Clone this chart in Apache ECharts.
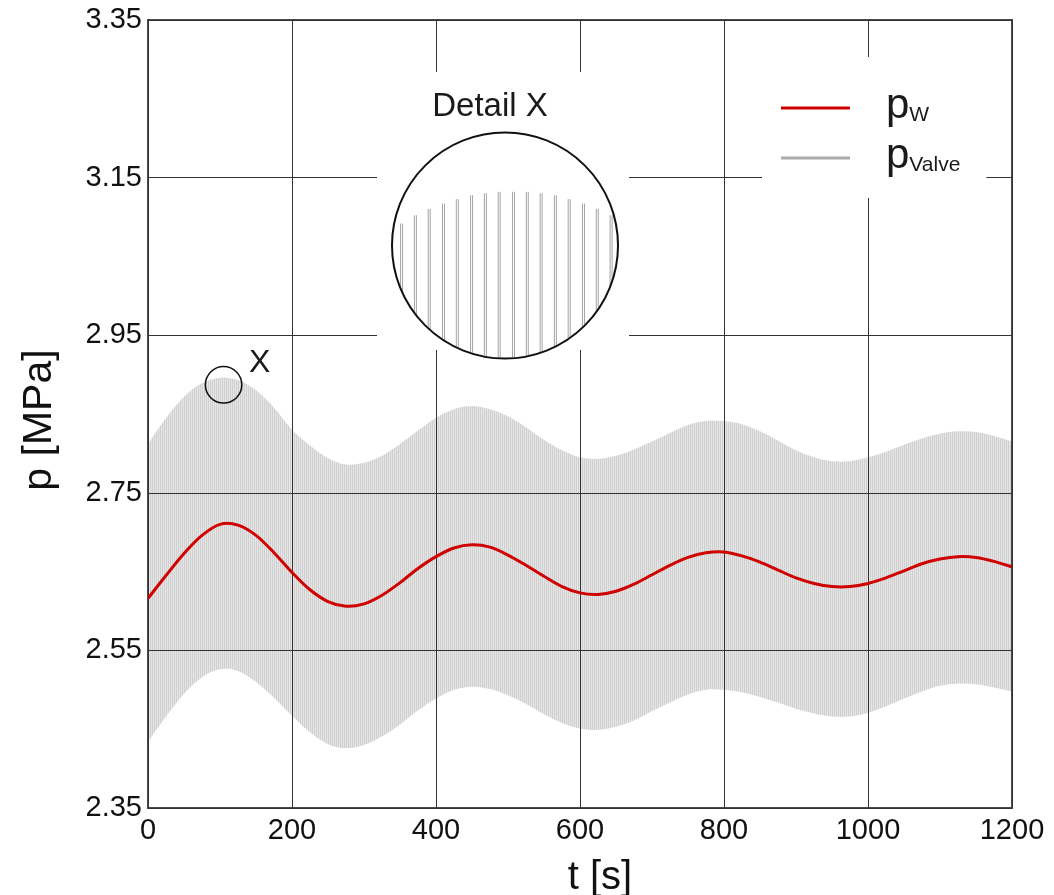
<!DOCTYPE html>
<html><head><meta charset="utf-8">
<script src="https://cdn.jsdelivr.net/npm/echarts@6/dist/echarts.min.js"></script>
<style>html,body{margin:0;padding:0;background:#fff}#c{width:1054px;height:895px}</style>
</head><body><div id="c"></div>
<script>
const FONT = '"Liberation Sans", Arial, Helvetica, sans-serif';

const times = [0,25,50,75,100,125,150,175,200,225,250,275,300,325,350,375,400,425,450,475,500,525,550,575,600,625,650,675,700,725,750,775,800,825,850,875,900,925,950,975,1000,1025,1050,1075,1100,1125,1150,1175,1200];

const pW = [2.616,2.645,2.673,2.696,2.710,2.709,2.696,2.674,2.649,2.627,2.612,2.606,2.609,2.620,2.636,2.654,2.669,2.680,2.684,2.681,2.671,2.658,2.644,2.631,2.623,2.621,2.625,2.634,2.646,2.658,2.668,2.674,2.675,2.670,2.662,2.652,2.642,2.635,2.631,2.631,2.635,2.642,2.651,2.660,2.666,2.669,2.668,2.663,2.656];

const valveUpper = [2.812,2.845,2.872,2.889,2.896,2.893,2.880,2.858,2.830,2.810,2.794,2.786,2.788,2.797,2.812,2.829,2.845,2.856,2.860,2.856,2.847,2.833,2.817,2.804,2.795,2.793,2.797,2.805,2.815,2.826,2.836,2.841,2.841,2.837,2.828,2.816,2.804,2.795,2.790,2.790,2.795,2.802,2.811,2.819,2.825,2.828,2.827,2.822,2.815];

const valveLower = [2.434,2.466,2.495,2.516,2.526,2.524,2.510,2.490,2.467,2.446,2.431,2.426,2.430,2.441,2.456,2.474,2.489,2.500,2.504,2.501,2.493,2.482,2.469,2.458,2.451,2.449,2.453,2.461,2.473,2.484,2.494,2.500,2.500,2.497,2.491,2.484,2.476,2.470,2.466,2.466,2.471,2.479,2.489,2.498,2.505,2.508,2.507,2.503,2.498];

const xTickLabels = ['0','200','400','600','800','1000','1200'];
const yTickLabels = ['2.35','2.55','2.75','2.95','3.15','3.35'];

// Detail X: magnified peaks of the valve signal around the marked point
const detailPoint = [105, 2.887];
const detailTimes = [81.8,84.9,88.0,91.2,94.3,97.5,100.6,103.7,106.9,110.0,113.1,116.3,119.4,122.6,125.7,128.8];
const detailTops = [2.8915,2.8932,2.8945,2.8956,2.8965,2.8973,2.8977,2.8980,2.8980,2.8980,2.8977,2.8973,2.8965,2.8956,2.8945,2.8932];

// stripe pattern for the dense valve oscillation
const pat = document.createElement('canvas');
pat.width = 2; pat.height = 4;
const pctx = pat.getContext('2d');
pctx.fillStyle = '#d0d0d0'; pctx.fillRect(0,0,1,4);
pctx.fillStyle = '#e5e5e5'; pctx.fillRect(1,0,1,4);

// Catmull-Rom -> cubic bezier path segments through screen points
function splineCmds(pts) {
  let d = '';
  for (let i = 0; i < pts.length - 1; i++) {
    const p0 = pts[Math.max(0, i-1)], p1 = pts[i], p2 = pts[i+1], p3 = pts[Math.min(pts.length-1, i+2)];
    const c1 = [p1[0] + (p2[0]-p0[0])/6, p1[1] + (p2[1]-p0[1])/6];
    const c2 = [p2[0] - (p3[0]-p1[0])/6, p2[1] - (p3[1]-p1[1])/6];
    d += ' C' + c1[0] + ' ' + c1[1] + ' ' + c2[0] + ' ' + c2[1] + ' ' + p2[0] + ' ' + p2[1];
  }
  return d;
}

const chart = echarts.init(document.getElementById('c'), null, {renderer:'canvas'});

const option = {
  animation: false,
  backgroundColor: '#fff',
  grid: {left:148, right:42, top:20, bottom:87, show:true, borderColor:'#4a4a4a', borderWidth:2, z:1,
         containLabel:false, outerBoundsMode:'none'},
  xAxis: {
    type:'value', min:0, max:1200, interval:200, z:1,
    name:'t [s]', nameLocation:'middle', nameGap:50,
    nameTextStyle:{fontFamily:FONT, fontSize:40, color:'#111', padding:[0,0,0,40]},
    axisLine:{show:false}, axisTick:{show:false},
    axisLabel:{fontFamily:FONT, fontSize:29, color:'#111', margin:8,
      formatter:(v)=>{ const i = Math.round(v/200); return xTickLabels[i] ?? String(v); }},
    splitLine:{show:true, lineStyle:{color:'#333', width:1}}
  },
  yAxis: {
    type:'value', min:2.35, max:3.35, interval:0.2, z:1,
    name:'p [MPa]', nameLocation:'middle', nameGap:88,
    nameTextStyle:{fontFamily:FONT, fontSize:41, color:'#111', padding:[0,12,0,0]},
    axisLine:{show:false}, axisTick:{show:false},
    axisLabel:{fontFamily:FONT, fontSize:29, color:'#111', margin:6,
      formatter:(v)=>{ const i = Math.round((v-2.35)/0.2); return yTickLabels[i] ?? v.toFixed(2); }},
    splitLine:{show:true, lineStyle:{color:'#333', width:1}}
  },
  legend: {
    orient:'vertical', left:762, top:57, padding:[28,26,17,19],
    backgroundColor:'#fff', itemWidth:69, itemHeight:3, itemGap:4, icon:'rect',
    data:[
      {name:'pW', itemStyle:{color:'#d00000'}},
      {name:'pValve', itemStyle:{color:'#aaaaaa'}}
    ],
    formatter:(n)=> n==='pW' ? '{p|p}{s|W}' : '{p|p}{s|Valve}',
    textStyle:{
      rich:{
        p:{fontFamily:FONT, fontSize:42, lineHeight:36, color:'#1a1a1a', padding:[0,0,4,31]},
        s:{fontFamily:FONT, fontSize:21, lineHeight:21, color:'#1a1a1a', verticalAlign:'top', padding:[15,0,0,0]}
      }
    }
  },
  series: [
    {
      name:'pValve', type:'custom', z:0, silent:true, clip:true,
      coordinateSystem:'cartesian2d',
      data: times.map((t,i)=>[t, valveLower[i], valveUpper[i]]),
      encode:{x:0, y:[1,2]},
      itemStyle:{color:'#aaaaaa'},
      renderItem:(params, api)=>{
        if (params.dataIndex !== 0) return null;
        const up = times.map((t,i)=>api.coord([t, valveUpper[i]]));
        const lo = times.map((t,i)=>api.coord([t, valveLower[i]])).reverse();
        const d = 'M' + up[0][0] + ' ' + up[0][1] + splineCmds(up) +
                  ' L' + lo[0][0] + ' ' + lo[0][1] + splineCmds(lo) + ' Z';
        return {type:'path', shape:{pathData:d}, style:{fill:{image:pat, repeat:'repeat'}, stroke:null}};
      }
    },
    {
      name:'pW', type:'custom', z:3, silent:true, clip:true,
      coordinateSystem:'cartesian2d',
      data: pW.map((v,i)=>[times[i], v]),
      encode:{x:0, y:1},
      itemStyle:{color:'#d00000'},
      renderItem:(params, api)=>{
        if (params.dataIndex !== 0) return null;
        const pts = pW.map((v,i)=>api.coord([times[i], v]));
        const d = 'M' + pts[0][0] + ' ' + pts[0][1] + splineCmds(pts);
        return {type:'path', shape:{pathData:d}, style:{fill:null, stroke:'#d00000', lineWidth:3, lineJoin:'round'}};
      }
    }
  ]
};
chart.setOption(option);

// marker circle "X" and Detail X inset
const c0 = chart.convertToPixel({gridIndex:0}, detailPoint);
const rMark = 18.25;
const cx = 505, cy = 245.5, R = 113;
const mag = R / rMark;
const elems = [
  {type:'circle', z:12, shape:{cx:c0[0], cy:c0[1], r:rMark}, style:{fill:'none', stroke:'#111', lineWidth:1.5}},
  {type:'text', z:12, style:{text:'X', x:c0[0]+36, y:c0[1]-22, font:'32px ' + FONT, fill:'#1a1a1a', align:'center', verticalAlign:'middle', textAlign:'center', textVerticalAlign:'middle'}},
  {type:'rect', z:10, shape:{x:377, y:72, width:252, height:278}, style:{fill:'#fff'}},
  {type:'text', z:11, style:{text:'Detail X', x:490, y:107, font:'33px ' + FONT, fill:'#1a1a1a', align:'center', verticalAlign:'middle', textAlign:'center', textVerticalAlign:'middle'}}
];
detailTimes.forEach((t,i)=>{
  const p = chart.convertToPixel({gridIndex:0}, [t, detailTops[i]]);
  const x = cx + (p[0]-c0[0])*mag;
  const yTop = cy + (p[1]-c0[1])*mag;
  [-1,1].forEach(o=>{
    const xx = x + o;
    const dx = xx - cx;
    const yBot = cy + Math.sqrt(Math.max(0, R*R - dx*dx)) - 1;
    elems.push({type:'line', z:11, shape:{x1:xx, y1:yTop, x2:xx, y2:yBot}, style:{stroke:'#a4a4a4', lineWidth:1}});
  });
});
elems.push({type:'circle', z:12, shape:{cx:cx, cy:cy, r:R}, style:{fill:'none', stroke:'#111', lineWidth:2}});
chart.setOption({graphic: elems});
</script>
</body></html>
